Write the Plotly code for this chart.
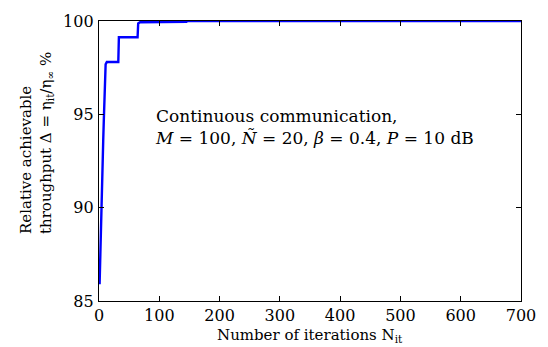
import plotly.graph_objects as go

iterations = [1, 2, 3, 4, 5, 6, 7, 8, 9, 10, 11, 12, 13, 32, 33, 64, 65, 68, 145, 146, 700]
throughput = [85.9, 87.4, 89.2, 90.5, 91.5, 92.5, 93.6, 94.7, 96.1, 97.6, 97.68, 97.74, 97.8,
              97.8, 99.13, 99.13, 99.87, 99.93, 99.95, 100.0, 100.0]

x_ticks = [0, 100, 200, 300, 400, 500, 600, 700]
y_ticks = [85, 90, 95, 100]

FONT = "DejaVu Serif"

fig = go.Figure()
fig.add_trace(go.Scatter(x=iterations, y=throughput, mode="lines",
                         line=dict(color="#0000ff", width=2.4), showlegend=False))

axis_common = dict(showgrid=False, zeroline=False, showline=True, linecolor="black",
                   linewidth=1.3, mirror="ticks", ticks="inside", ticklen=5,
                   tickcolor="black", tickwidth=1,
                   tickfont=dict(family=FONT, size=16, color="black"))

fig.update_layout(
    width=548, height=347,
    margin=dict(l=99, r=25.5, t=12.5, b=45.5),
    paper_bgcolor="white", plot_bgcolor="white",
    xaxis=dict(range=[0, 700], tickvals=x_ticks, **axis_common),
    yaxis=dict(range=[85, 100], tickvals=y_ticks, **axis_common),
    font=dict(family=FONT, color="black"),
)
fig.update_xaxes(ticklabelstandoff=0)
fig.update_yaxes(ticklabelstandoff=1)

fig.add_annotation(xref="paper", yref="paper", x=0.5, y=0, yshift=-34,
                   text="Number of iterations N<sub>it</sub>", showarrow=False,
                   font=dict(family=FONT, size=15), xanchor="center", yanchor="middle")

fig.add_annotation(xref="paper", yref="paper", x=0, xshift=-63, y=0.5, yshift=18,
                   text="Relative achievable<br>throughput Δ = η<sub>it</sub>/η<sub>∞</sub> %",
                   textangle=-90, showarrow=False, align="left",
                   font=dict(family=FONT, size=15), xanchor="center", yanchor="middle")

fig.add_annotation(xref="x", yref="y", x=89, y=94.3, xanchor="left", yanchor="middle",
                   text="Continuous communication,<br><i>M</i> = 100, <i>Ñ</i> = 20, <i>β</i> = 0.4, <i>P</i> = 10 dB",
                   showarrow=False, align="left", font=dict(family=FONT, size=17))

fig.write_html("out.html")
